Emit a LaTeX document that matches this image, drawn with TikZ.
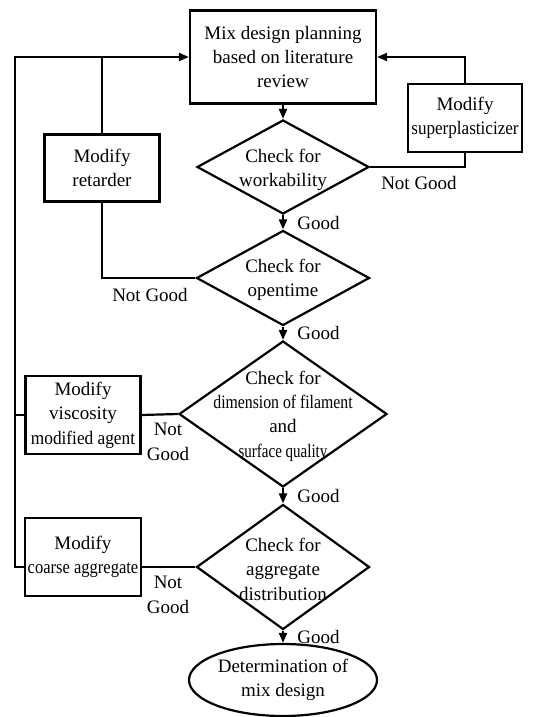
\documentclass[tikz,border=0pt]{standalone}
\usepackage{fontspec}
\setmainfont{Liberation Serif}
\usepackage{graphicx}
\usetikzlibrary{arrows.meta,shapes.geometric}
\newcommand{\narrow}[2]{\scalebox{#1}[1]{#2}}

\begin{document}
\begin{tikzpicture}[x=0.5pt,y=-0.5pt,
    every node/.style={font=\fontsize{9.5}{12.2}\selectfont},
    box/.style={draw,line width=1.1pt,rectangle,align=center,inner sep=0pt},
    decision/.style={draw,line width=1.1pt,diamond,inner sep=0pt},
    terminal/.style={draw,line width=1.1pt,ellipse,align=center,inner sep=0pt},
    txt/.style={align=center,inner sep=0pt},
    line/.style={line width=1.1pt},
    flow/.style={line width=1.1pt,-{Triangle[length=5pt,width=4pt]}}]
  \useasboundingbox (0,0) rectangle (547,717);

  \node[box,minimum width=93pt,minimum height=46.5pt] (plan) at (283,57)
    {Mix design planning\\based on literature\\review};
  \node[box,minimum width=57.5pt,minimum height=33.5pt] (ret) at (102,168)
    {Modify\\retarder};
  \node[box,minimum width=57pt,minimum height=34pt] (sp) at (465,118)
    {Modify\\\narrow{0.9}{superplasticizer}};
  \node[box,minimum width=57.5pt,minimum height=39pt] (vma) at (83,415)
    {Modify\\viscosity\\\narrow{0.91}{modified agent}};
  \node[box,minimum width=58pt,minimum height=39pt] (coarse) at (83,557)
    {Modify\\\narrow{0.87}{coarse aggregate}};

  \node[decision,minimum width=86pt,minimum height=47pt] (d1) at (283,167) {};
  \node[txt] (t1) at (283,170) {Check for\\workability};
  \node[decision,minimum width=86.5pt,minimum height=47.5pt] (d2) at (283,278) {};
  \node[txt] (t2) at (283,280) {Check for\\opentime};
  \node[decision,minimum width=104pt,minimum height=73pt] (d3) at (283,414) {};
  \node[txt] (t3) at (283,416) {Check for\\\narrow{0.83}{dimension of filament}\\and\\\narrow{0.79}{surface quality}};
  \node[decision,minimum width=86.5pt,minimum height=62.5pt] (d4) at (283,567) {};
  \node[txt] (t4) at (283,569) {Check for\\aggregate\\distribution};

  \node[terminal,minimum width=94pt,minimum height=36pt] (final) at (283,680)
    {Determination of\\mix design};

  \node[txt,anchor=west] (g1) at (297,223) {Good};
  \node[txt,anchor=west] (g2) at (297,333) {Good};
  \node[txt,anchor=west] (g3) at (297,496) {Good};
  \node[txt,anchor=west] (g4) at (297,637) {Good};
  \node[txt] (n1) at (419,183) {Not Good};
  \node[txt] (n2) at (150,295) {Not Good};
  \node[txt] (n3) at (168,442) {Not\\Good};
  \node[txt] (n4) at (168,595) {Not\\Good};

  \draw[flow] (plan.south) -- (d1.north);
  \draw[flow] (d1.south) -- (d2.north);
  \draw[flow] (d2.south) -- (d3.north);
  \draw[flow] (d3.south) -- (d4.north);
  \draw[flow] (d4.south) -- (final.north);

  \draw[line] (d1.east) -| (sp.south);
  \draw[flow] (sp.north) |- (plan.east);
  \draw[line] (d2.west) -| (ret.south);
  \draw[line] (ret.north) -- (ret.north |- plan.west);
  \draw[line] (d3.west) -- (vma.east);
  \draw[line] (d4.west) -- (d4.west -| coarse.east);
  \coordinate (rail) at (15,567);
  \draw[flow] (d4.west -| coarse.west) -- (rail) |- (plan.west);
  \draw[line] (vma.west) -- (vma.west -| rail);
\end{tikzpicture}
\end{document}
